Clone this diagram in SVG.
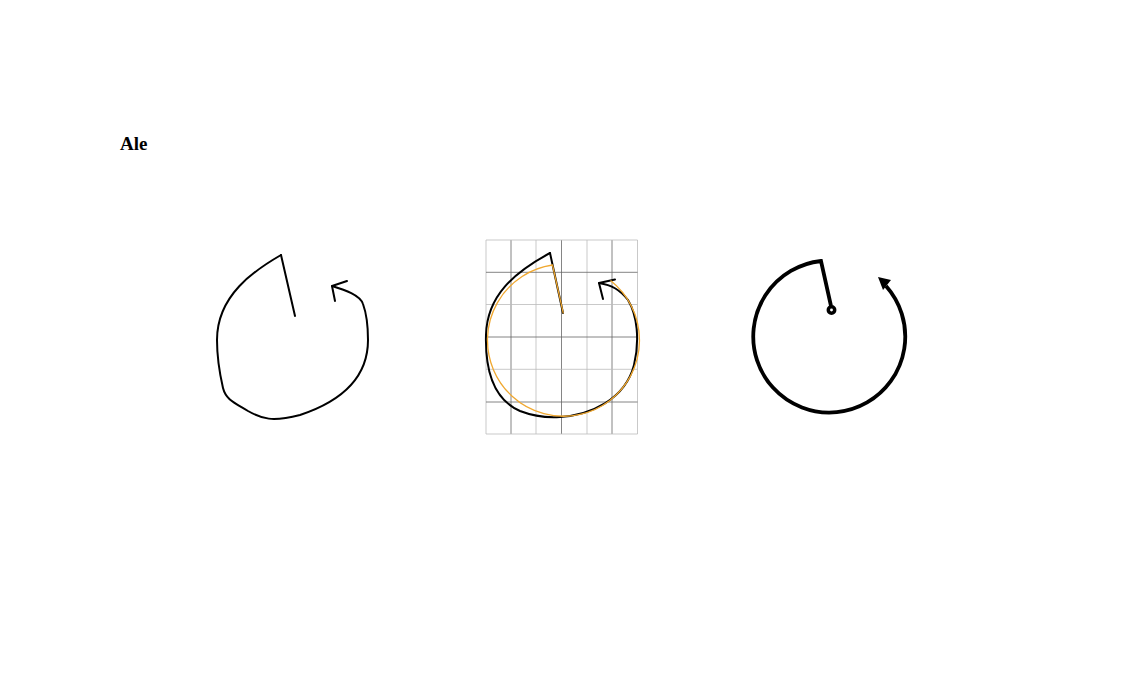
<svg xmlns="http://www.w3.org/2000/svg" width="1125" height="675" viewBox="0 0 1125 675">
<style>
.sk{fill:none;stroke:#000;stroke-width:2;stroke-linecap:round;stroke-linejoin:round}
.gd{stroke:#666;stroke-width:0.8}
.gl{stroke:#bbb;stroke-width:0.8}
.or{fill:none;stroke:#f0a830;stroke-width:1.3}
.bold{fill:none;stroke:#000;stroke-width:3.8;stroke-linejoin:miter}
</style>
<rect width="1125" height="675" fill="#fff"/>
<text x="120" y="150" font-family="Liberation Serif, serif" font-weight="bold" font-size="19">Ale</text>
<g id="sketch">
<path class="sk" d="M281,255 C255,270 217,295 217,340 C217,360 220,375 223,388 C226,400 235,403 248,411 C262,419 272,422 300,415 C330,405 368,385 368,340 C368,330 367,315 363,304 C360,295 345,290 332,286"/>
<path class="sk" d="M281,255 L295,316"/>
<path class="sk" d="M347,281 L332,286 L335,301"/>
</g>
<g id="grid-trace">
<g>
<line class="gl" x1="486" y1="240" x2="486" y2="434"/>
<line class="gd" x1="511" y1="240" x2="511" y2="434"/>
<line class="gl" x1="536" y1="240" x2="536" y2="434"/>
<line class="gd" x1="561.5" y1="240" x2="561.5" y2="434"/>
<line class="gl" x1="587" y1="240" x2="587" y2="434"/>
<line class="gd" x1="612" y1="240" x2="612" y2="434"/>
<line class="gl" x1="637.5" y1="240" x2="637.5" y2="434"/>
<line class="gl" x1="486" y1="240" x2="637.5" y2="240"/>
<line class="gd" x1="486" y1="272.3" x2="637.5" y2="272.3"/>
<line class="gl" x1="486" y1="304.5" x2="637.5" y2="304.5"/>
<line class="gd" x1="486" y1="337" x2="637.5" y2="337"/>
<line class="gl" x1="486" y1="369.3" x2="637.5" y2="369.3"/>
<line class="gd" x1="486" y1="402" x2="637.5" y2="402"/>
<line class="gl" x1="486" y1="434" x2="637.5" y2="434"/>
</g>
<path class="sk" d="M550,253 C515,272 487,295 486,335 C485,372 495,400 520,411 C533,416 545,418 560,417 C590,415 625,400 634,365 C640,340 637,315 628,300 C620,290 612,285 599,283"/>
<path class="sk" d="M550,253 L563,313"/>
<path class="sk" d="M615,279.5 L599,283 L603,299"/>
<path class="or" d="M610.5,280.5 A76,76 0 1 1 552.5,265 L563.3,313.3"/>
</g>
<g id="clean">
<path class="bold" d="M886,286 A76,76 0 1 1 821,261 L831,306"/>
<polygon points="878,277 891,280 883,290" fill="#000"/>
<circle cx="831.5" cy="310" r="3.2" fill="#fff" stroke="#000" stroke-width="3.5"/>
</g>
</svg>
